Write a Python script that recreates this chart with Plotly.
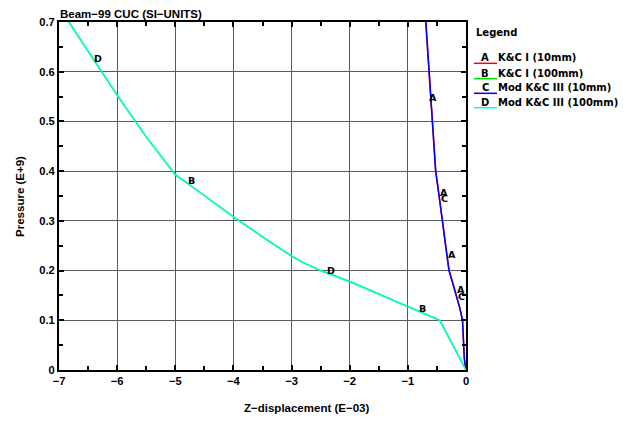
import plotly.graph_objects as go

# ---- data ----
x_a = [-0.693, -0.663, -0.633, -0.601, -0.571, -0.546, -0.521, -0.463, -0.401, -0.351, -0.291, -0.226, -0.161, -0.106, -0.059, -0.053, -0.037, -0.027, -0.011, 0.0]
y_a = [0.700, 0.650, 0.600, 0.550, 0.500, 0.450, 0.400, 0.350, 0.300, 0.250, 0.200, 0.175, 0.150, 0.125, 0.100, 0.080, 0.035, 0.020, 0.008, 0.0]
x_c = [-0.690, -0.660, -0.630, -0.600, -0.572, -0.548, -0.522, -0.462, -0.402, -0.352, -0.292, -0.228, -0.162, -0.108, -0.060, -0.055, -0.035, -0.025, -0.010, 0.0]
y_c = [0.700, 0.650, 0.600, 0.550, 0.500, 0.450, 0.400, 0.350, 0.300, 0.250, 0.200, 0.175, 0.150, 0.125, 0.100, 0.080, 0.035, 0.020, 0.008, 0.0]
x_b = [-6.83, -6.36, -6.00, -5.50, -5.00, -4.50, -4.00, -3.50, -3.00, -2.80, -2.50, -2.00, -1.50, -1.00, -0.50, -0.45, 0.0]
y_b = [0.700, 0.617, 0.553, 0.469, 0.393, 0.351, 0.308, 0.268, 0.229, 0.216, 0.200, 0.178, 0.153, 0.129, 0.103, 0.100, 0.0]
x_d = list(x_b)
y_d = list(y_b)

series_names = ["K&C I (10mm)", "K&C I (100mm)", "Mod K&C III (10mm)", "Mod K&C III (100mm)"]
series_letters = ["A", "B", "C", "D"]
series_colors = ["#ff0000", "#00dd00", "#0000ff", "#00ffdd"]

# curve-letter labels (letter, x, y)
lbl_letters = ["A", "A", "C", "A", "A", "C", "D", "B", "D", "B"]
lbl_x = [-0.57, -0.38, -0.375, -0.24, -0.08, -0.07, -6.33, -4.72, -2.32, -0.74]
lbl_y = [0.549, 0.357, 0.345, 0.233, 0.161, 0.147, 0.626, 0.382, 0.201, 0.123]

title_text = "Beam\u221299 CUC (SI\u2212UNITS)"
xlabel = "Z\u2212displacement (E\u221203)"
ylabel = "Pressure (E+9)"

fig = go.Figure()
for xs, ys, i in [(x_a, y_a, 0), (x_b, y_b, 1), (x_c, y_c, 2), (x_d, y_d, 3)]:
    fig.add_trace(go.Scatter(x=xs, y=ys, mode="lines", name=series_names[i],
                             line=dict(color=series_colors[i], width=1.5),
                             showlegend=False, hoverinfo="skip"))

FAM = "Liberation Sans, Arial, sans-serif"
DJV = "DejaVu Sans, sans-serif"
tickf = dict(family=FAM, size=11.2, color="black", weight="bold")
txtf = dict(family=FAM, size=11.5, color="black", weight="bold")
legf = dict(family=DJV, size=10, color="black", weight="bold")
lblfont = dict(family=DJV, size=9.5, color="black", weight="bold")

annotations = []
for t, xx, yy in zip(lbl_letters, lbl_x, lbl_y):
    annotations.append(dict(x=xx, y=yy, xref="x", yref="y", text=t, showarrow=False, font=lblfont))

# legend (custom)
annotations.append(dict(x=1.0197, y=0.971, xref="paper", yref="paper", text="Legend", showarrow=False,
                        xanchor="left", yanchor="middle", font=legf))
leg_y = [0.8813, 0.8371, 0.7951, 0.7537]
shapes = []
for i in range(4):
    shapes.append(dict(type="line", xref="paper", yref="paper", x0=1.0197, x1=1.0762,
                       y0=leg_y[i], y1=leg_y[i], line=dict(color=series_colors[i], width=1.5)))
    annotations.append(dict(x=1.0467, y=leg_y[i] + 0.016, xref="paper", yref="paper", text=series_letters[i],
                            showarrow=False, xanchor="center", yanchor="middle", font=legf))
    annotations.append(dict(x=1.0745, y=leg_y[i] + 0.016, xref="paper", yref="paper", text=series_names[i],
                            showarrow=False, xanchor="left", yanchor="middle", font=legf))

annotations.append(dict(x=-0.003, y=1.0, xref="paper", yref="paper", text=title_text, showarrow=False,
                        xanchor="left", yanchor="bottom", yshift=0, font=txtf))
annotations.append(dict(x=0.609, y=-0.109, xref="paper", yref="paper", text=xlabel, showarrow=False,
                        xanchor="center", yanchor="middle", font=txtf))
annotations.append(dict(x=-0.096, y=0.5, xref="paper", yref="paper", text=ylabel, showarrow=False,
                        textangle=-90, xanchor="center", yanchor="middle", font=txtf))

axis_common = dict(showline=True, linecolor="black", linewidth=2, mirror="ticks",
                   ticks="inside", ticklen=5, tickwidth=1.5, tickcolor="black",
                   showgrid=True, gridcolor="#5a5a5a", gridwidth=1, zeroline=False,
                   tickfont=tickf)

fig.update_layout(
    width=626, height=423,
    margin=dict(l=59, r=160, t=22, b=53),
    paper_bgcolor="white", plot_bgcolor="white",
    xaxis=dict(range=[-7, 0], dtick=1, tick0=0,
               minor=dict(ticks="inside", dtick=0.5, ticklen=4, tickcolor="black", showgrid=False),
               **axis_common),
    yaxis=dict(range=[0, 0.7], dtick=0.1, tick0=0,
               minor=dict(ticks="inside", dtick=0.05, ticklen=4, tickcolor="black", showgrid=False),
               **axis_common),
    annotations=annotations,
    shapes=shapes,
    showlegend=False,
)

fig.write_html("out.html")
